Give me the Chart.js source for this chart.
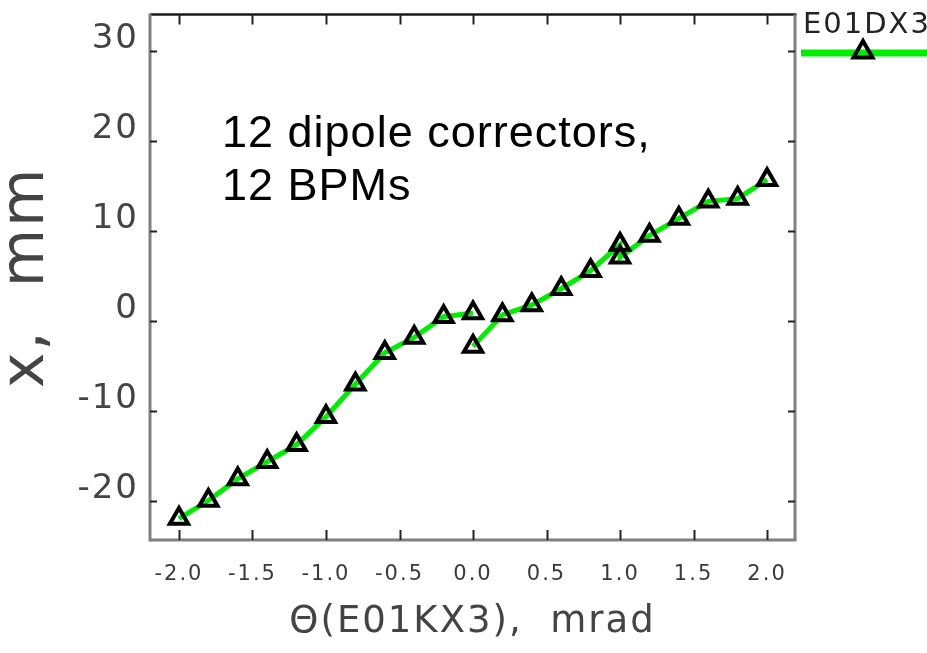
<!DOCTYPE html>
<html><head><meta charset="utf-8">
<script src="https://cdn.jsdelivr.net/npm/chart.js@4/dist/chart.umd.min.js"></script>
<style>html,body{margin:0;padding:0;background:#fff;overflow:hidden}canvas{display:block}</style>
</head><body>
<canvas id="c" width="927" height="653"></canvas>
<script>
// Scan 1: corrector kick -2.0 .. 0.0 mrad
const kickScan1  = [-2.0, -1.8, -1.6, -1.4, -1.2, -1.0, -0.8, -0.6, -0.4, -0.2, 0.0];
const orbitScan1 = [-21.9, -19.9, -17.5, -15.6, -13.7, -10.6, -7.0, -3.5, -1.8, 0.5, 0.9];
// Scan 2: corrector kick 0.0 .. 2.0 mrad
const kickScan2  = [0.0, 0.2, 0.4, 0.6, 0.8, 1.0, 1.0, 1.2, 1.4, 1.6, 1.8, 2.0];
const orbitScan2 = [-2.8, 0.7, 1.8, 3.6, 5.6, 8.5, 7.1, 9.5, 11.4, 13.3, 13.6, 15.7];
// Tick values
const xTicks = [-2.0, -1.5, -1.0, -0.5, 0.0, 0.5, 1.0, 1.5, 2.0];
const yTicks = [-20, -10, 0, 10, 20, 30];
// Texts
const seriesName = 'E01DX3';
const xTitle = 'Θ(E01KX3),  mrad';
const yTitle = 'x,  mm';
const noteLines = ['12 dipole correctors,', '12 BPMs'];

const GREEN = '#00ee00';
const FONT = '"DejaVu Sans"';

function toPoints(xs, ys){ return xs.map((v, i) => ({x: v, y: ys[i]})); }

const dsStyle = {
  borderColor: GREEN, borderWidth: 5, tension: 0,
  pointStyle: 'triangle', pointRadius: 10.5, pointHoverRadius: 10.5,
  pointBorderColor: '#000', pointBorderWidth: 4,
  pointBackgroundColor: 'rgba(0,0,0,0)'
};

const framePlugin = {
  id: 'frame',
  beforeDraw(chart){ chart.ctx.letterSpacing = '2px'; },
  beforeDatasetsDraw(chart){
    const {ctx, chartArea: a, scales: {x, y}} = chart;
    ctx.save();
    ctx.lineCap = 'butt';
    ctx.strokeStyle = '#1a1a1a'; ctx.lineWidth = 2.5;
    ctx.beginPath(); ctx.moveTo(a.left, a.top); ctx.lineTo(a.right + 1.5, a.top); ctx.stroke();
    ctx.strokeStyle = '#808080'; ctx.lineWidth = 3;
    ctx.beginPath(); ctx.moveTo(a.left, a.top - 1); ctx.lineTo(a.left, a.bottom + 1.5); ctx.stroke();
    ctx.beginPath(); ctx.moveTo(a.left, a.bottom); ctx.lineTo(a.right + 1.5, a.bottom); ctx.stroke();
    ctx.beginPath(); ctx.moveTo(a.right, a.top); ctx.lineTo(a.right, a.bottom); ctx.stroke();
    ctx.strokeStyle = '#222'; ctx.lineWidth = 2;
    x.ticks.forEach(t => {
      const px = Math.round(x.getPixelForValue(t.value)) + 0.5;
      ctx.beginPath(); ctx.moveTo(px, a.bottom); ctx.lineTo(px, a.bottom - 10); ctx.stroke();
      ctx.beginPath(); ctx.moveTo(px, a.top); ctx.lineTo(px, a.top + 10); ctx.stroke();
    });
    y.ticks.forEach(t => {
      const py = Math.round(y.getPixelForValue(t.value)) + 0.5;
      ctx.beginPath(); ctx.moveTo(a.left, py); ctx.lineTo(a.left + 7, py); ctx.stroke();
      ctx.beginPath(); ctx.moveTo(a.right, py); ctx.lineTo(a.right - 7, py); ctx.stroke();
    });
    ctx.restore();
  },
  afterDraw(chart){
    const ctx = chart.ctx;
    ctx.save();
    ctx.letterSpacing = '2px';
    ctx.font = '29px ' + FONT;
    ctx.fillStyle = '#222';
    ctx.textBaseline = 'alphabetic';
    ctx.textAlign = 'left';
    ctx.fillText(seriesName, 803, 33);
    ctx.strokeStyle = GREEN; ctx.lineWidth = 7;
    ctx.beginPath(); ctx.moveTo(801, 53); ctx.lineTo(927, 53); ctx.stroke();
    const cx = 863, cy = 52, r = 11;
    ctx.strokeStyle = '#000'; ctx.lineWidth = 4;
    ctx.beginPath();
    ctx.moveTo(cx, cy - r);
    ctx.lineTo(cx + r * Math.sin(2 * Math.PI / 3), cy + r / 2);
    ctx.lineTo(cx - r * Math.sin(2 * Math.PI / 3), cy + r / 2);
    ctx.closePath(); ctx.stroke();
    ctx.letterSpacing = '1px';
    ctx.font = '45px "Liberation Sans"';
    ctx.fillStyle = '#000';
    ctx.fillText(noteLines[0], 222, 147);
    ctx.fillText(noteLines[1], 222, 200);
    ctx.restore();
  }
};

new Chart(document.getElementById('c'), {
  type: 'line',
  data: {
    datasets: [
      Object.assign({label: seriesName, data: toPoints(kickScan1, orbitScan1)}, dsStyle),
      Object.assign({label: seriesName + ' (2)', data: toPoints(kickScan2, orbitScan2)}, dsStyle)
    ]
  },
  options: {
    responsive: false,
    devicePixelRatio: 1,
    animation: false,
    events: [],
    layout: {padding: {top: 9, right: 132, left: 0, bottom: 0}},
    plugins: {legend: {display: false}, tooltip: {enabled: false}},
    scales: {
      x: {
        type: 'linear', min: -2.197, max: 2.19,
        afterFit(s){ s.height = 113; s.paddingLeft = 0; s.paddingRight = 0; },
        afterBuildTicks(s){ s.ticks = xTicks.map(v => ({value: v})); },
        grid: {display: false, drawTicks: false},
        border: {display: false},
        ticks: {
          includeBounds: false, padding: 22, maxRotation: 0, autoSkip: false,
          color: '#3a3a3a', font: {family: FONT, size: 21},
          callback: v => Number(v).toFixed(1)
        },
        title: {display: true, text: xTitle, color: '#444',
          font: {family: FONT, size: 37, lineHeight: 1}, padding: {top: 0, bottom: 12}}
      },
      y: {
        type: 'linear', min: -24.28, max: 34.03,
        afterFit(s){ s.width = 150; s.paddingTop = 0; s.paddingBottom = 0; },
        afterBuildTicks(s){ s.ticks = yTicks.map(v => ({value: v})); },
        grid: {display: false, drawTicks: false},
        border: {display: false},
        ticks: {
          includeBounds: false, padding: 11, labelOffset: -12, autoSkip: false,
          color: '#444', font: {family: FONT, size: 34},
          callback: v => String(v)
        },
        title: {display: true, text: yTitle, color: '#444',
          font: {family: FONT, size: 60, lineHeight: 0.9}, padding: 0}
      }
    }
  },
  plugins: [framePlugin]
});
</script>
</body></html>
